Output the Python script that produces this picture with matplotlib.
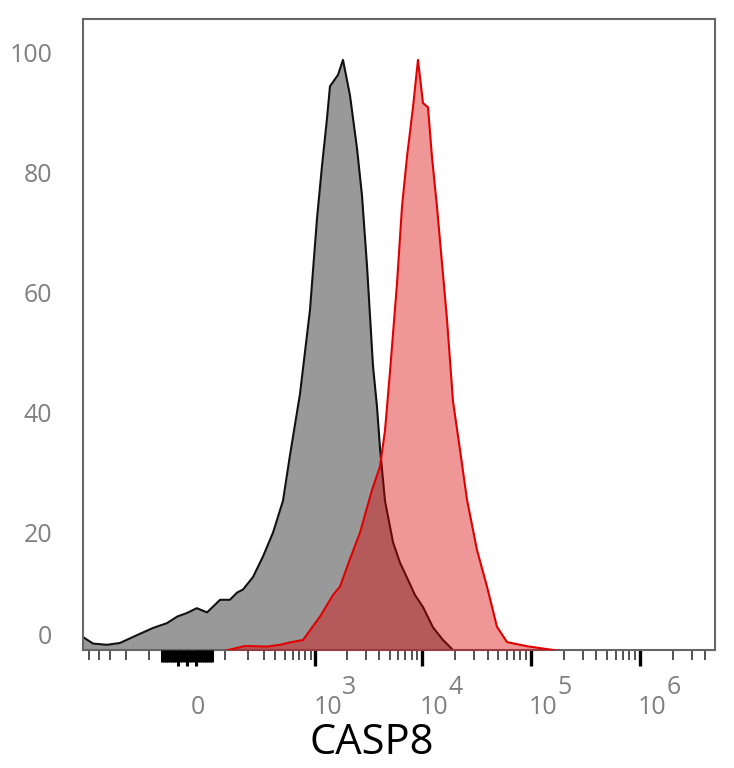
import numpy as np
import matplotlib
matplotlib.use("Agg")
import matplotlib.pyplot as plt
from matplotlib.ticker import FixedLocator, NullFormatter
from matplotlib.transforms import blended_transform_factory

plt.rcParams['font.family'] = ['Open Sans', 'DejaVu Sans']

# CASP8 intensity (fluorescence units) vs. counts, % of mode
control_x = [-577, -457, -326, -235, -147, -87, -47, -22, 0, 22, 47, 84, 118, 147,
             174, 229, 295, 378, 479, 564, 709, 888, 1038, 1160, 1295, 1383, 1648,
             1837, 2137, 2486, 2770, 3085, 3508, 3822, 4075, 4536, 5381, 6245, 7248,
             8592, 10188, 12596, 15571, 20072]
control_y = [2.5, 1.4, 1.2, 1.5, 2.8, 4.0, 4.8, 5.9, 6.5, 7.3, 6.6, 8.7, 8.7, 9.9,
             10.4, 12.5, 15.9, 19.9, 25.2, 32.8, 43.0, 57.0, 72.2, 81.0, 88.9, 94.3, 96.2,
             98.7, 92.8, 84.0, 76.1, 64.4, 47.7, 40.9, 34.0, 25.2, 18.3, 14.9, 12.4,
             9.5, 7.5, 4.1, 2.0, 0]

casp8_x = [84, 184, 326, 447, 564, 759, 1110, 1477, 1721, 2137, 2654, 3434, 4075,
           4536, 5047, 5860, 6518, 7248, 8235, 9160, 10188, 11330, 12330, 13710,
           16944, 19247, 22327, 25890, 31987, 39526, 48822, 60336, 92068, 214358]
casp8_y = [0, 1.0, 0.9, 1.2, 1.6, 2.0, 5.9, 9.5, 10.9, 15.5, 19.9, 27.0, 30.9,
           36.9, 46.7, 61.4, 74.2, 82.5, 90.8, 98.7, 91.5, 90.8, 82.5, 74.2,
           55.5, 41.8, 33.7, 25.4, 17.0, 10.9, 4.2, 1.65, 0.96, 0]

y_ticks = [20, 40, 60, 80, 100]
decades = [3, 4, 5, 6]

# logicle-like display scale, u in decades
k = 70.0
p = 0.5
def inv(u):
    u = np.asarray(u, dtype=float)
    a = np.abs(u)
    return np.sign(u) * (k * (10**a - 1) + k * p * p * (1 - 10**(-a / p)))

u_grid = np.linspace(-7, 7, 40001)
x_grid = inv(u_grid)
def fwd(x):
    return np.interp(np.asarray(x, dtype=float), x_grid, u_grid)

fig = plt.figure(figsize=(7.34, 7.68), dpi=100)
ax = fig.add_axes([83/734, 1-650/768, (715-83)/734, (650-18.5)/768])
ax.set_xscale('function', functions=(fwd, inv))

ax.fill_between(control_x, control_y, 0, color='#999999', lw=0, zorder=1)
ax.plot(control_x, control_y, color='#111111', lw=1.5, zorder=2)
ax.fill_between(casp8_x, casp8_y, 0, color=(0.86, 0.02, 0.02), alpha=0.42, lw=0, zorder=3)
ax.plot(casp8_x, casp8_y, color='#e00000', lw=1.5, zorder=4)

ax.set_xlim(-577, 4.89e6)
ax.set_ylim(0.33, 105.6)

# ticks
major = [10**d for d in decades]
minor = list(range(-500, 0, 100)) + list(range(100, 1000, 100))
for d in [3, 4, 5]:
    minor += [m * 10**d for m in range(2, 10)]
minor += [2e6, 3e6, 4e6]
ax.xaxis.set_major_locator(FixedLocator(major))
ax.xaxis.set_minor_locator(FixedLocator(minor))
ax.xaxis.set_major_formatter(NullFormatter())
ax.xaxis.set_minor_formatter(NullFormatter())
ax.tick_params(axis='x', which='major', direction='out', length=11.5, width=2.4, color='black')
ax.tick_params(axis='x', which='minor', direction='out', length=7, width=1.1, color='#222222')

# dense ticks around zero (they merge into a band)
trans = blended_transform_factory(ax.transData, ax.transAxes)
for v in range(-60, 61, 5):
    ln = -16/631.5 if v in (-20, 0, 20) else -12/631.5
    ax.plot([v, v], [0, ln], transform=trans, color='black', lw=2.2,
            solid_capstyle='butt', clip_on=False, zorder=5)

ax.set_yticks(y_ticks)
ax.tick_params(axis='y', length=0, pad=22, labelsize=18, labelcolor='#808080')
ax.annotate('0', xy=(0, 0), xycoords='axes fraction', xytext=(-31, 12),
            textcoords='offset pixels', ha='right', va='center', fontsize=18, color='#808080')

ax.annotate('0', xy=(0, 0), xycoords=trans, xytext=(11, -58), textcoords='offset pixels',
            ha='center', va='center', fontsize=18, color='#808080', annotation_clip=False)
for d in decades:
    ax.annotate('10', xy=(10**d, 0), xycoords=trans, xytext=(-2, -58), textcoords='offset pixels',
                ha='left', va='center', fontsize=18, color='#808080', annotation_clip=False)
    ax.annotate(str(d), xy=(10**d, 0), xycoords=trans, xytext=(34, -38), textcoords='offset pixels',
                ha='center', va='center', fontsize=18, color='#808080', annotation_clip=False)

for s in ax.spines.values():
    s.set_color('#666666')
    s.set_linewidth(1.5)

fig.text(372/734, 1-743/768, 'CASP8', ha='center', va='center', fontsize=30, color='black')

fig.savefig('out.png', dpi=100)
